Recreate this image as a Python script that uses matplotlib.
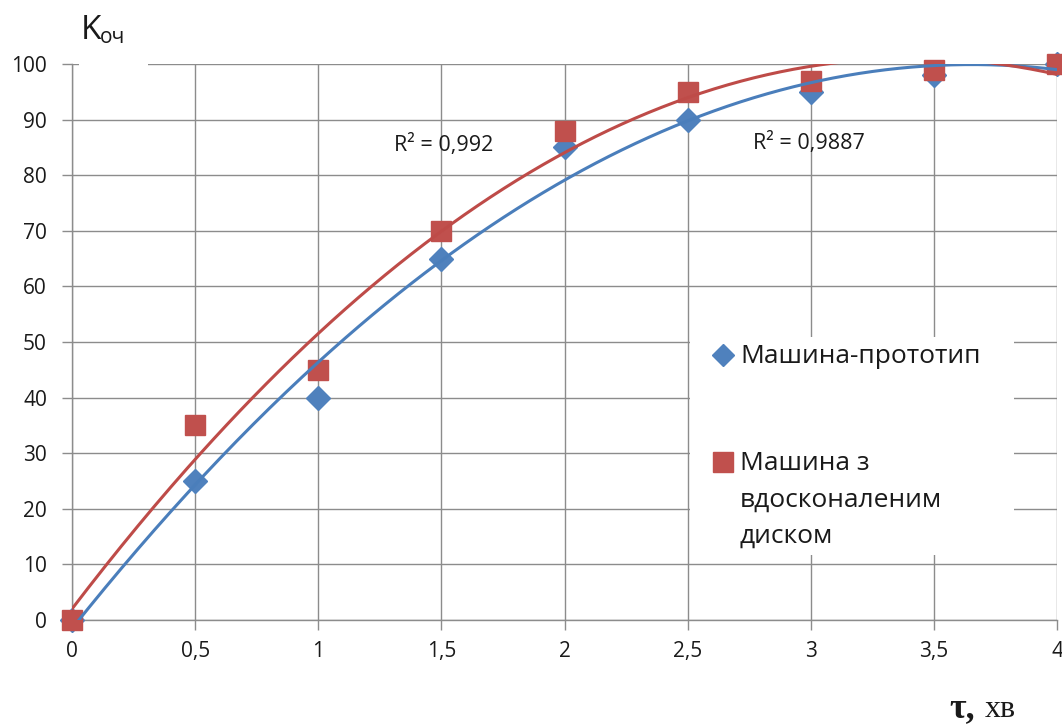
import numpy as np
import matplotlib
matplotlib.use("Agg")
import matplotlib.pyplot as plt
from matplotlib.patches import Rectangle

plt.rcParams['font.family'] = ['Open Sans', 'DejaVu Sans']

tau = [0, 0.5, 1, 1.5, 2, 2.5, 3, 3.5, 4]
proto = [0, 25, 40, 65, 85, 90, 95, 98, 100]
improved = [0, 35, 45, 70, 88, 95, 97, 99, 100]
xticks = [0, 0.5, 1, 1.5, 2, 2.5, 3, 3.5, 4]
xlabels = ["0", "0,5", "1", "1,5", "2", "2,5", "3", "3,5", "4"]
yticks = [0, 10, 20, 30, 40, 50, 60, 70, 80, 90, 100]
r2_proto = "R² = 0,9887"
r2_impr = "R² = 0,992"
label_proto = "Машина-прототип"
label_impr = "Машина з\nвдосконаленим\nдиском"

BLUE = "#4F81BD"
RED = "#C0504D"
GRID = "#8c8c8c"
TXT = "#1a1a1a"

X0, X1, Y0, Y1 = 72, 1057, 620, 64


def ax_frac(px, py):
    return (px - X0) / (X1 - X0), (Y0 - py) / (Y0 - Y1)


fig = plt.figure(figsize=(10.62, 7.25), dpi=100)
ax = fig.add_axes([X0/1062, 1-Y0/725, (X1-X0)/1062, (Y0-Y1)/725])

for s in ['top', 'right']:
    ax.spines[s].set_visible(False)
for s in ['left', 'bottom']:
    ax.spines[s].set_color(GRID)
    ax.spines[s].set_linewidth(1)

ax.set_xlim(0, 4)
ax.set_ylim(0, 100)
ax.set_xticks(xticks)
ax.set_xticklabels(xlabels)
ax.set_yticks(yticks)
ax.grid(True, color=GRID, linewidth=1)
ax.tick_params(axis='both', color=GRID, length=7, width=1, labelsize=15, colors=TXT)
ax.tick_params(axis='x', pad=8)
ax.tick_params(axis='y', pad=11)
ax.set_axisbelow(True)

ax.plot(tau, proto, linestyle='none', marker='D', markersize=12, color=BLUE,
        markeredgecolor=BLUE, zorder=4, clip_on=False)
ax.plot(tau, improved, linestyle='none', marker='s', markersize=15, color=RED,
        markeredgecolor=RED, zorder=5, clip_on=False)

xs = np.linspace(0, 4, 300)
cb = np.polyfit(tau, proto, 2)
cr = np.polyfit(tau, improved, 2)
ax.plot(xs, np.polyval(cb, xs), color="#4A7EBB", lw=2.2, zorder=6)
ax.plot(xs, np.polyval(cr, xs), color="#BE4B48", lw=2.2, zorder=6)

ax.text(1.51, 85.4, r2_impr, fontsize=15.5, ha='center', va='center', color=TXT)
ax.text(2.993, 85.8, r2_proto, fontsize=15.5, ha='center', va='center', color=TXT)

# legend (manual, inside plot area)
lx0, ly0 = ax_frac(690, 555)
lx1, ly1 = ax_frac(1014, 337)
ax.add_patch(Rectangle((lx0, ly0), lx1 - lx0, ly1 - ly0, transform=ax.transAxes,
                       facecolor='white', edgecolor='none', zorder=7))
mx, my1 = ax_frac(723, 355)
_, my2 = ax_frac(723, 462)
tx, _ = ax_frac(740, 0)
ax.plot([mx], [my1], transform=ax.transAxes, linestyle='none', marker='D', markersize=11,
        color=BLUE, zorder=8, clip_on=False)
ax.plot([mx], [my2], transform=ax.transAxes, linestyle='none', marker='s', markersize=14,
        color=RED, zorder=8, clip_on=False)
_, b1 = ax_frac(0, 363)
ax.text(tx, b1, label_proto, transform=ax.transAxes, fontsize=19, ha='left',
        va='baseline', color=TXT, zorder=9)
for line, py in zip(label_impr.split("\n"), [470, 507, 543]):
    _, b = ax_frac(0, py)
    ax.text(tx, b, line, transform=ax.transAxes, fontsize=19, ha='left',
            va='baseline', color=TXT, zorder=9)

fig.patches.append(Rectangle((79/1062, 1-70/725), 69/1062, 12/725, transform=fig.transFigure,
                             facecolor='white', edgecolor='none', zorder=1))
fig.text(81/1062, 1-39/725, "K", fontsize=24, color=TXT, ha='left', va='baseline')
fig.text(100/1062, 1-43/725, "оч", fontsize=15, color=TXT, ha='left', va='baseline')

fig.text(949/1062, 1-717/725, "τ,", fontsize=26, family='Liberation Serif', weight='bold',
         color=TXT, ha='left', va='baseline')
fig.text(985/1062, 1-717/725, "хв", fontsize=23, family='Liberation Serif',
         color=TXT, ha='left', va='baseline')

fig.savefig("out.png", dpi=100)
